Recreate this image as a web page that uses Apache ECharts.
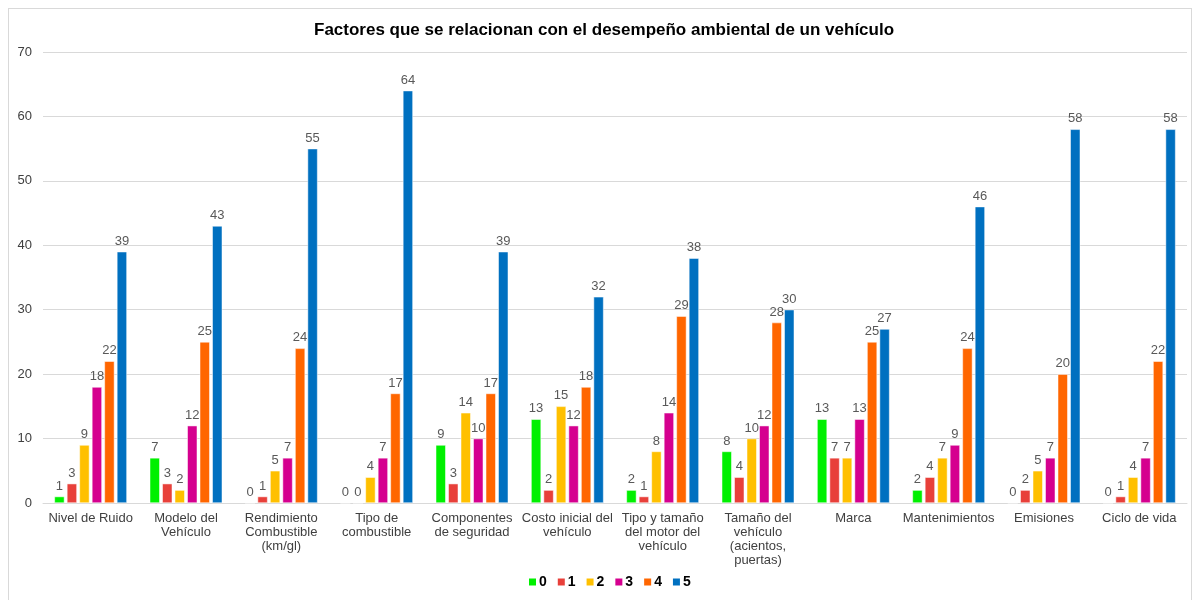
<!DOCTYPE html>
<html>
<head>
<meta charset="utf-8">
<script src="https://cdn.jsdelivr.net/npm/echarts@6/dist/echarts.min.js"></script>
<style>
  html, body { margin: 0; padding: 0; background: #fff; }
  #frame { position: absolute; left: 8px; top: 8px; width: 1184px; height: 600px; border: 1px solid #d9d9d9; box-sizing: border-box; }
  #chart { position: absolute; left: 0; top: 0; width: 1195px; height: 600px; }
</style>
</head>
<body>
<div id="frame"></div>
<div id="chart"></div>
<script>
// Factors related to a vehicle's environmental performance, rated 0–5
const categories = [
  'Nivel de Ruido',
  'Modelo del\nVehículo',
  'Rendimiento\nCombustible\n(km/gl)',
  'Tipo de\ncombustible',
  'Componentes\nde seguridad',
  'Costo inicial del\nvehículo',
  'Tipo y tamaño\ndel motor del\nvehículo',
  'Tamaño del\nvehículo\n(acientos,\npuertas)',
  'Marca',
  'Mantenimientos',
  'Emisiones',
  'Ciclo de vida'
];
const seriesNames = ['0', '1', '2', '3', '4', '5'];
const rating0 = [1, 7, 0, 0, 9, 13, 2, 8, 13, 2, 0, 0];
const rating1 = [3, 3, 1, 0, 3, 2, 1, 4, 7, 4, 2, 1];
const rating2 = [9, 2, 5, 4, 14, 15, 8, 10, 7, 7, 5, 4];
const rating3 = [18, 12, 7, 7, 10, 12, 14, 12, 13, 9, 7, 7];
const rating4 = [22, 25, 24, 17, 17, 18, 29, 28, 25, 24, 20, 22];
const rating5 = [39, 43, 55, 64, 39, 32, 38, 30, 27, 46, 58, 58];
const ratings = [rating0, rating1, rating2, rating3, rating4, rating5];
const colors = ['#00f000', '#e8403a', '#ffc000', '#d5008f', '#ff6600', '#0070c0'];

const chart = echarts.init(document.getElementById('chart'));
const font = 'Liberation Sans, Arial, sans-serif';

chart.setOption({
  animation: false,
  title: {
    text: 'Factores que se relacionan con el desempeño ambiental de un vehículo',
    left: 309,
    top: 17,
    textStyle: { fontFamily: font, fontSize: 17, fontWeight: 'bold', color: '#000' }
  },
  legend: {
    data: seriesNames,
    bottom: 6,
    left: 522,
    itemWidth: 9,
    itemHeight: 9,
    itemGap: 9,
    icon: 'rect',
    textStyle: { fontFamily: font, fontSize: 14, fontWeight: 'bold', color: '#000', padding: [0, 0, 0, -3] }
  },
  grid: { left: 43, right: 8, top: 52, bottom: 97, containLabel: false },
  xAxis: {
    type: 'category',
    data: categories,
    axisLine: { lineStyle: { color: '#d9d9d9' } },
    axisTick: { show: false },
    axisLabel: {
      interval: 0,
      fontFamily: font,
      fontSize: 13,
      color: '#404040',
      lineHeight: 14,
      margin: 8
    }
  },
  yAxis: {
    type: 'value',
    min: 0,
    max: 70,
    interval: 10,
    axisLine: { show: false },
    axisTick: { show: false },
    splitLine: { lineStyle: { color: '#d9d9d9' } },
    axisLabel: { fontFamily: font, fontSize: 13, color: '#404040', margin: 11 }
  },
  series: ratings.map((vals, i) => ({
    name: seriesNames[i],
    type: 'bar',
    data: vals,
    barWidth: 10,
    barGap: '25%',
    itemStyle: { color: colors[i], borderColor: '#fff', borderWidth: 0.5 },
    label: {
      show: true,
      position: 'top',
      distance: 4,
      fontFamily: font,
      fontSize: 13,
      color: '#595959'
    }
  }))
});
</script>
</body>
</html>
